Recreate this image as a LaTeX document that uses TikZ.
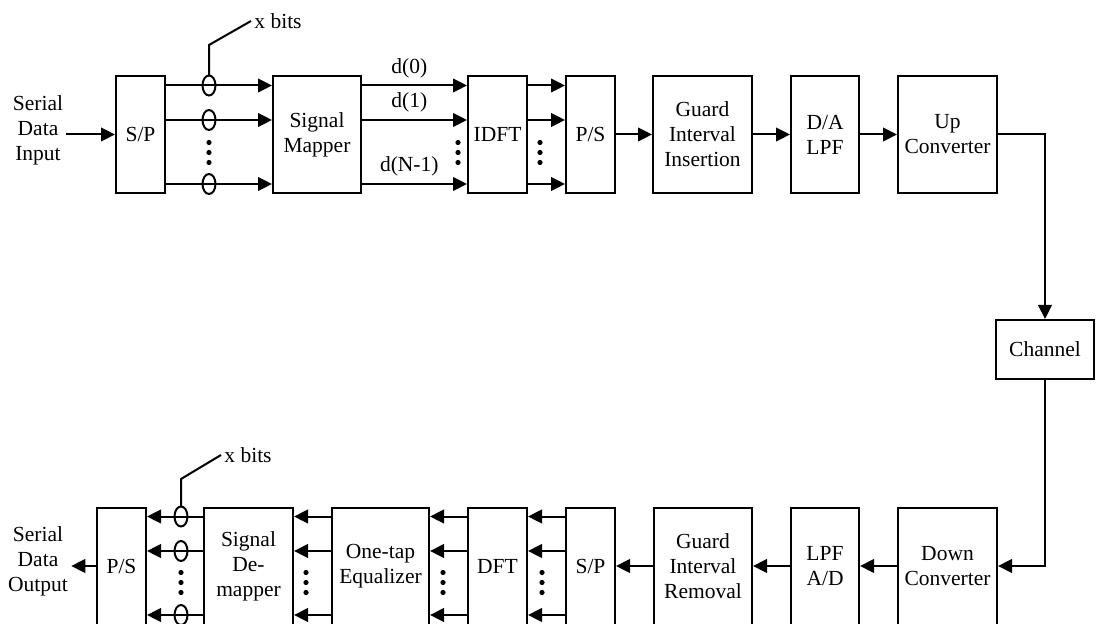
\documentclass[tikz,border=0pt]{standalone}
\usepackage{fontspec}
\setmainfont{Liberation Serif}
\usetikzlibrary{arrows.meta,calc}
\begin{document}
\begin{tikzpicture}[x=0.5pt,y=-0.5pt,
    font=\fontsize{10.75pt}{12.5pt}\selectfont,
    blk/.style={draw, line width=1pt, minimum height=58.5pt, inner sep=1pt, align=center},
    lbl/.style={inner sep=1.5pt, align=center},
    arr/.style={line width=1pt, -{Triangle[length=7pt,width=6.8pt]}},
    wire/.style={line width=1pt}]
    \useasboundingbox (0,0) rectangle (1096,624);
    % transmitter
    \node[lbl] (sin) at (38,130) {Serial\\Data\\Input};
    \node[blk, minimum width=24.5pt] (sp1) at (140.5,134.5) {S/P};
    \node[blk, minimum width=44pt] (map) at (317,134.5) {Signal\\Mapper};
    \node[blk, minimum width=29.5pt] (idft) at (497.5,134.5) {IDFT};
    \node[blk, minimum width=24.5pt] (ps1) at (590.5,134.5) {P/S};
    \node[blk, minimum width=49.5pt] (gii) at (702.5,134.5) {Guard\\Interval\\Insertion};
    \node[blk, minimum width=34pt] (dac) at (825,134.5) {D/A\\LPF};
    \node[blk, minimum width=49.5pt] (upc) at (947.5,134.5) {Up\\Converter};
    \node[blk, minimum width=49pt, minimum height=29.5pt] (chan) at (1045,349.5) {Channel};
    % receiver
    \node[lbl] (sout) at (38,561) {Serial\\Data\\Output};
    \node[blk, minimum width=24.5pt] (ps2) at (121.5,566) {P/S};
    \node[blk, minimum width=44.5pt] (demap) at (248.5,566) {Signal\\De-\\mapper};
    \node[blk, minimum width=48.5pt] (eq) at (380.5,566) {One-tap\\Equalizer};
    \node[blk, minimum width=29.5pt] (dft) at (497.5,566) {DFT};
    \node[blk, minimum width=24.5pt] (sp2) at (590.5,566) {S/P};
    \node[blk, minimum width=49pt] (gir) at (703,566) {Guard\\Interval\\Removal};
    \node[blk, minimum width=34pt] (adc) at (825,566) {LPF\\A/D};
    \node[blk, minimum width=49.5pt] (dnc) at (947.5,566) {Down\\Converter};

    \draw[arr] (sin.east |- sp1.west) -- (sp1.west);
    \foreach \dy in {-49,-14.5,49.5} {
        \draw[arr] ($(sp1.east)+(0,\dy)$) -- ($(map.west)+(0,\dy)$);
        \draw[wire] (209,134.5+\dy) ellipse (6.5 and 10);
        \draw[arr] ($(idft.east)+(0,\dy)$) -- ($(ps1.west)+(0,\dy)$);
        \draw[arr] ($(sp2.west)+(0,\dy-0.5)$) -- ($(dft.east)+(0,\dy-0.5)$);
        \draw[arr] ($(dft.west)+(0,\dy-0.5)$) -- ($(eq.east)+(0,\dy-0.5)$);
        \draw[arr] ($(eq.west)+(0,\dy-0.5)$) -- ($(demap.east)+(0,\dy-0.5)$);
        \draw[arr] ($(demap.west)+(0,\dy-0.5)$) -- ($(ps2.east)+(0,\dy-0.5)$);
        \draw[wire] (181,565.5+\dy) ellipse (6.5 and 10);
    }
    \draw[arr] ($(map.east)+(0,-49)$) -- node[pos=0.45, above]{d(0)} ($(idft.west)+(0,-49)$);
    \draw[arr] ($(map.east)+(0,-14.5)$) -- node[pos=0.45, above]{d(1)} ($(idft.west)+(0,-14.5)$);
    \draw[arr] ($(map.east)+(0,49.5)$) -- node[pos=0.45, above]{d(N-1)} ($(idft.west)+(0,49.5)$);
    \foreach \xx in {209,458,540} {
        \foreach \yy in {8,18,28} \fill (\xx,134.5+\yy) circle (1.3pt);
    }
    \foreach \xx in {181,306,443,542} {
        \foreach \yy in {7,17,27} \fill (\xx,565.5+\yy) circle (1.3pt);
    }
    \draw[arr] (ps1) -- (gii);
    \draw[arr] (gii) -- (dac);
    \draw[arr] (dac) -- (upc);
    \draw[arr] (upc.east) -- (upc.east -| chan) -- (chan.north);
    \draw[arr] (chan.south) -- (chan |- dnc) -- (dnc.east);
    \draw[arr] (dnc) -- (adc);
    \draw[arr] (adc) -- (gir);
    \draw[arr] (gir) -- (sp2);
    \draw[arr] (ps2.west) -- (sout.east |- ps2.west);

    \node[lbl, anchor=west] (xb1) at (251,21) {x bits};
    \draw[wire] (209,75.5) -- (209,45) -- (xb1.west);
    \node[lbl, anchor=west] (xb2) at (221,455) {x bits};
    \draw[wire] (181,506) -- (181,479) -- (xb2.west);
\end{tikzpicture}
\end{document}
